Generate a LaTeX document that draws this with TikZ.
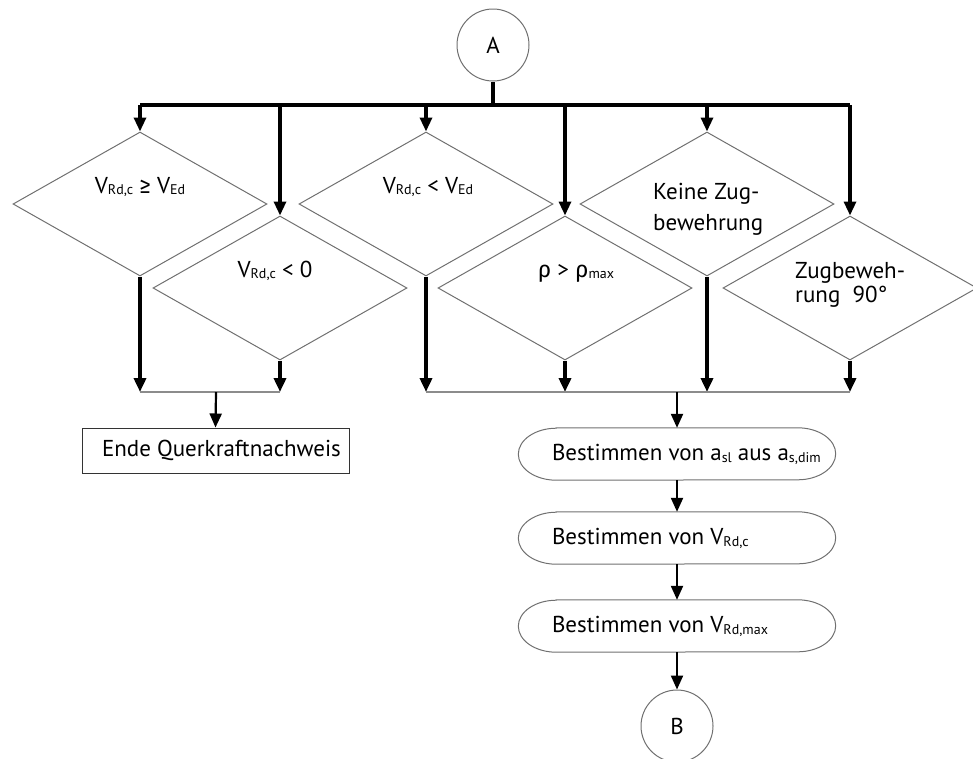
\documentclass[tikz,border=0pt]{standalone}
\usepackage{fontspec}
\setmainfont{PT Sans}
\newfontfamily\symf{Fira Sans}
\usetikzlibrary{shapes.geometric,arrows.meta,calc}
\newcommand\sbs[1]{\raisebox{-1.8pt}{\fontsize{14}{14}\selectfont #1}}
\definecolor{outl}{HTML}{707070}
\definecolor{mrg}{HTML}{8C8C8C}
\newcommand\stadshape[1]{%
  \draw[outl] ([xshift=38pt]#1.north west) -- ([xshift=-38pt]#1.north east)
    arc[start angle=90,end angle=-90,x radius=38pt,y radius=26pt]
    -- ([xshift=38pt]#1.south west)
    arc[start angle=270,end angle=90,x radius=38pt,y radius=26pt] -- cycle;}
\begin{document}
\begin{tikzpicture}[x=1pt,y=1pt,
  font=\fontsize{23}{27}\selectfont,
  outl/.style={draw=outl,line width=1pt},
  circ/.style={circle,outl,minimum size=72pt,inner sep=0},
  dia/.style={diamond,outl,minimum width=254pt,minimum height=144pt,inner sep=0},
  dtext/.style={inner sep=0},
  box/.style={rectangle,draw=black!80,line width=1pt,minimum width=267pt,minimum height=45pt,inner sep=0},
  stad/.style={rectangle,minimum width=317pt,minimum height=52pt,inner sep=0},
  arr/.style={-{Triangle[length=14pt,width=12pt]}},
  bus/.style={line width=3.2pt,black},
  thk/.style={line width=3.6pt,black},
  med/.style={line width=2.2pt,black},
  mrgl/.style={line width=1.6pt,draw=mrg}]
\useasboundingbox (0,0) rectangle (973,-758);

% connectors A / B
\node[circ] (A) at (493,-45) {A};
\node[circ] (B) at (677,-726) {B};

% diamonds
\node[dia] (d1) at (140,-204) {};
\node[dia] (d2) at (280,-288) {};
\node[dia] (d3) at (426,-204) {};
\node[dia] (d4) at (565,-288) {};
\node[dia] (d5) at (707,-204) {};
\node[dia] (d6) at (850,-288) {};

\node[dtext,anchor=base] (t1) at (140,-193) {V\sbs{Rd,c} {\symf ≥} V\sbs{Ed}};
\node[dtext,anchor=base] (t2) at (275,-277) {V\sbs{Rd,c} < 0};
\node[dtext,anchor=base] (t3) at (428,-193) {V\sbs{Rd,c} < V\sbs{Ed}};
\node[dtext,anchor=base] (t4) at (576,-277) {{\symf ρ} > {\symf ρ}\sbs{max}};
\node[dtext,anchor=north west,align=left] (t5) at (653,-183) {Keine Zug-\\[4pt]bewehrung};
\node[dtext,anchor=north west,align=left] (t6) at (795,-262) {Zugbeweh-\\[-3pt]rung\ \ 90°};

% bus from A
\coordinate (bus) at (493,-105);
\draw[bus] (A.south) -- (bus);
\draw[bus] (d1|-bus) -- (d6|-bus);
\foreach \d in {d1,d2,d3,d4,d5,d6}
  \draw[bus,arr] (\d|-bus) -- (\d.north);

% merge lines
\coordinate (ml) at (216,-392);
\coordinate (mr) at (677,-392);
\foreach \d in {d1,d2,d3,d4,d5,d6}
  \draw[thk,arr] (\d.south) -- (\d|-ml);
\draw[mrgl] (d1|-ml) -- (d2|-ml);
\draw[mrgl] (d3|-mr) -- (d6|-mr);

% end box
\node[box] (E) at (215.5,-450.5) {\makebox[227pt][l]{Ende Querkraftnachweis}};
\draw[med,arr] (ml) -- (E.north);

% process stadiums
\node[stad] (s1) at (677,-454) {\makebox[250pt][l]{Bestimmen von a\sbs{sl} aus a\sbs{s,dim}}};
\node[stad] (s2) at (677,-538) {\makebox[250pt][l]{Bestimmen von V\sbs{Rd,c}}};
\node[stad] (s3) at (677,-626) {\makebox[250pt][l]{Bestimmen von V\sbs{Rd,max}}};
\stadshape{s1}
\stadshape{s2}
\stadshape{s3}

\draw[med,arr] (mr) -- (s1.north);
\draw[med,arr] (s1.south) -- (s2.north);
\draw[med,arr] (s2.south) -- (s3.north);
\draw[med,arr] (s3.south) -- (B.north);
\end{tikzpicture}
\end{document}
